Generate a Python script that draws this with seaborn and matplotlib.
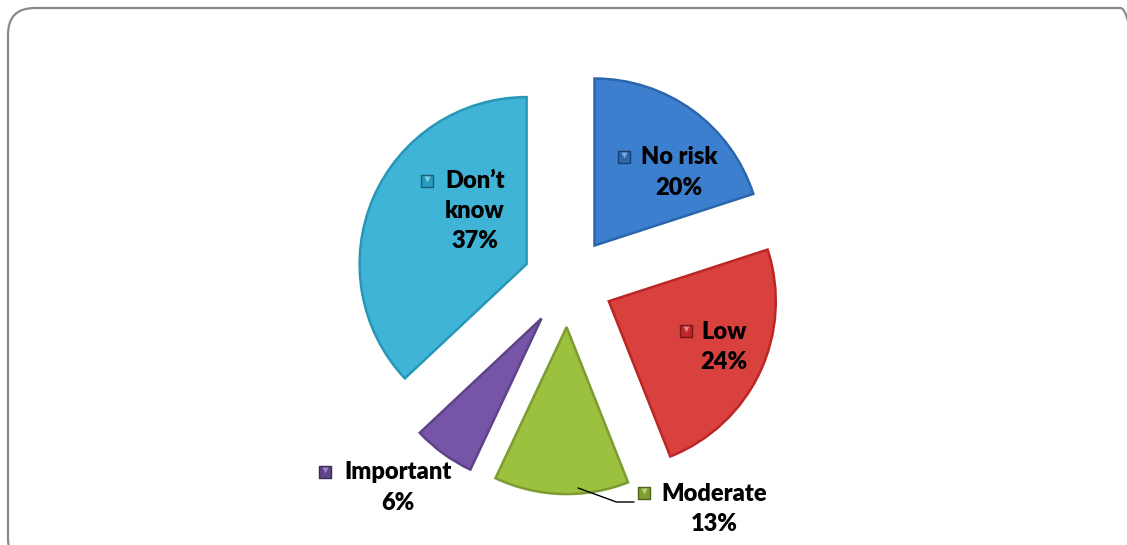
import matplotlib
matplotlib.use("Agg")
import matplotlib.pyplot as plt
import seaborn as sns
from matplotlib.patches import FancyBboxPatch
import colorsys
import matplotlib.colors as mcolors

# ---- data ----
categories = ["No risk", "Low", "Moderate", "Important", "Don\u2019t know"]
label_text = ["No risk", "Low", "Moderate", "Important", "Don\u2019t\nknow"]
values = [20, 24, 13, 6, 37]
pct_labels = ["20%", "24%", "13%", "6%", "37%"]

# ---- style ----
sns.set_theme(style="white")
plt.rcParams["font.family"] = ["Lato", "DejaVu Sans"]
palette = sns.color_palette(["#3d7fcf", "#d9413f", "#9bc13f", "#7654a8", "#40b4d6"])

def shade(c, f):
    h, l, s = colorsys.rgb_to_hls(*mcolors.to_rgb(c))
    return colorsys.hls_to_rgb(h, min(1, l * f), s)

W, H = 1127, 545
S = 167.0            # pixels per pie radius
CX, CY = 568, 282    # pie centre in pixels (from top)

def P(x, y):
    return ((x - CX) / S, (CY - y) / S)

fig = plt.figure(figsize=(W / 100, H / 100), dpi=100)
ax = fig.add_axes([0, 0, 1, 1])
ax.axis("off")

# rounded border
x0, y0 = P(8, 8)
x1, y1 = P(W + 20, H + 20)
border = FancyBboxPatch((x0, y1), x1 - x0, y0 - y1,
                        boxstyle="round,pad=0,rounding_size=0.16",
                        fill=False, edgecolor="#8a8a8a", linewidth=1.6,
                        clip_on=False)
ax.add_patch(border)

wedges, _ = ax.pie(values, colors=palette, startangle=90, counterclock=False,
                   explode=[0.27] * len(values), radius=1.0, center=(0, 0),
                   wedgeprops=dict(linewidth=1.8), frame=False)
for w, c in zip(wedges, palette):
    w.set_edgecolor(shade(c, 0.8))
ax.set_xlim(-CX / S, (W - CX) / S)
ax.set_ylim(-(H - CY) / S, CY / S)
ax.set_aspect("equal")

# label layout (pixel positions of text-block centres and key squares)
text_pos = [(679, 172.5), (724, 347), (714, 509), (398, 487.5), (475, 211)]
key_pos = [(624, 157), (686, 331), (644, 493), (325, 472), (427, 181)]

for i, (lab, pct) in enumerate(zip(label_text, pct_labels)):
    tx, ty = P(*text_pos[i])
    ax.text(tx, ty, lab + "\n" + pct, ha="center", va="center",
            fontsize=17, fontweight="heavy", color="black",
            linespacing=1.45, multialignment="center")
    kx, ky = P(*key_pos[i])
    ax.scatter([kx], [ky], marker="s", s=65, color=shade(palette[i], 0.82),
               edgecolor=shade(palette[i], 0.5), linewidth=1.0, zorder=5)
    ax.scatter([kx], [ky + 0.012], marker="v", s=18, color=shade(palette[i], 1.3),
               linewidth=0, zorder=6)

# leader line for Moderate
ax.annotate("", xy=P(578, 488), xytext=P(634, 502),
            arrowprops=dict(arrowstyle="-", color="black", lw=1.0,
                            connectionstyle="angle,angleA=0,angleB=-20,rad=0",
                            shrinkA=0, shrinkB=0))

fig.savefig("out.png", dpi=100)
